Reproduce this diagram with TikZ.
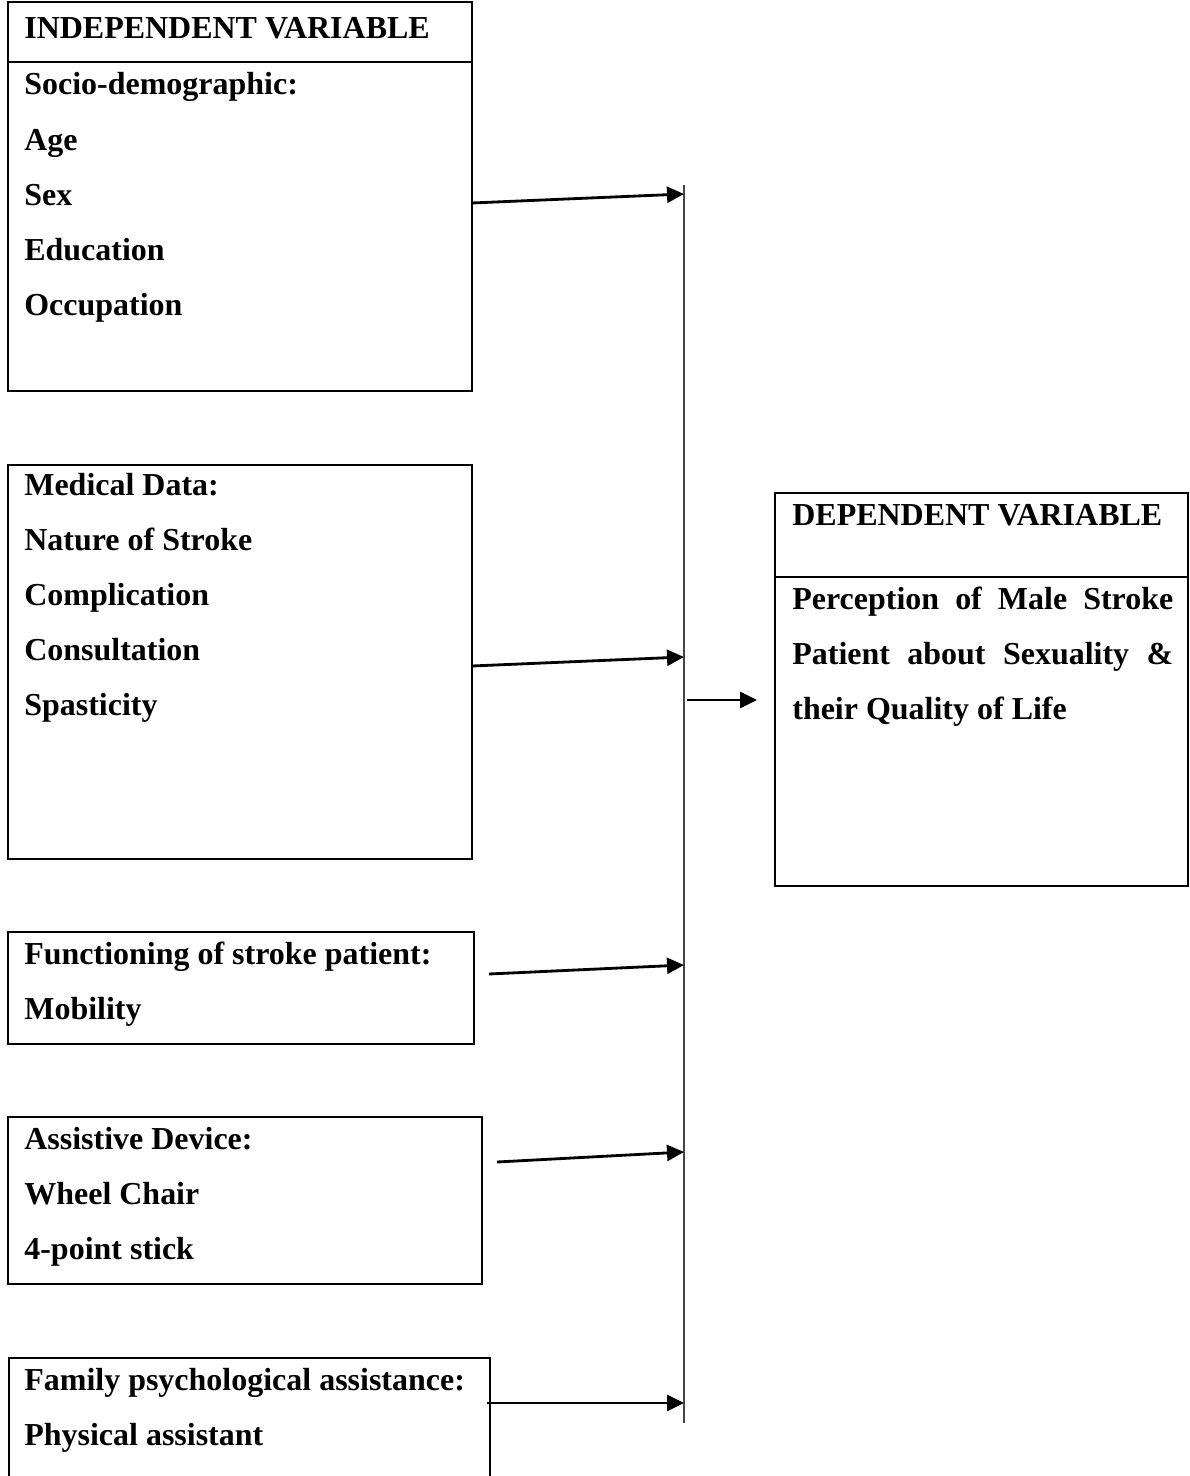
\documentclass[tikz,border=0pt]{standalone}
\usepackage{fontspec}
\setmainfont{Liberation Serif}
\usepackage{tikz}
\usetikzlibrary{arrows.meta, positioning, calc, fit}
\definecolor{busgray}{RGB}{70, 70, 70}

\begin{document}
\begin{tikzpicture}[x=0.02cm, y=-0.02cm,
    box/.style={draw, line width=1.1pt, inner sep=0pt},
    lbl/.style={anchor=base west, inner sep=0pt, font=\fontsize{18.2}{31.3}\selectfont\bfseries},
    link/.style={-{Triangle[length=0.34cm, width=0.32cm]}, line width=1.6pt}]
  \clip (0,0) rectangle (1189,1476);

  % independent variable boxes
  \node[box, fit={(8,2) (472,62)}] (indep-head) {};
  \node[box, fit={(8,62) (472,391)}] (socio) {};
  \node[box, fit={(8,465) (472,859)}] (medical) {};
  \node[box, fit={(8,932) (474,1044)}] (function) {};
  \node[box, fit={(8,1117) (482,1284)}] (device) {};
  \node[box, fit={(9,1358) (490,1520)}] (family) {};

  \node[lbl] (indep-title) at (24,39) {INDEPENDENT VARIABLE};
  \foreach \t [count=\i from 0] in {Socio-demographic:, Age, Sex, Education, Occupation}
    \node[lbl] (socio-\i) at (24, {95+55.2*\i}) {\t};
  \foreach \t [count=\i from 0] in {Medical Data:, Nature of Stroke, Complication, Consultation, Spasticity}
    \node[lbl] (medical-\i) at (24, {495+55.2*\i}) {\t};
  \foreach \t [count=\i from 0] in {Functioning of stroke patient:, Mobility}
    \node[lbl] (function-\i) at (24, {964+55.2*\i}) {\t};
  \foreach \t [count=\i from 0] in {Assistive Device:, Wheel Chair, 4-point stick}
    \node[lbl] (device-\i) at (24, {1149+55.2*\i}) {\t};
  \foreach \t [count=\i from 0] in {Family psychological assistance:, Physical assistant}
    \node[lbl] (family-\i) at (24, {1390+55.2*\i}) {\t};

  % dependent variable box
  \node[box, fit={(775,493) (1188,577)}] (dep-head) {};
  \node[box, fit={(775,577) (1188,886)}] (dep) {};
  \node[lbl] (dep-title) at (792,525) {DEPENDENT VARIABLE};
  \node[lbl] (dep-0) at (792,609) {\makebox[7.62cm][s]{Perception of Male Stroke}};
  \node[lbl] (dep-1) at (792,664) {\makebox[7.62cm][s]{Patient about Sexuality \&}};
  \node[lbl] (dep-2) at (792,719) {their Quality of Life};

  % vertical bus
  \coordinate (bus-top) at (684,185);
  \coordinate (bus-bot) at (684,1423);
  \draw[busgray, line width=0.6pt] (bus-top) -- (bus-bot);

  % arrows into the bus
  \foreach \sx/\sy/\ey [count=\k] in {472/203/194, 472/666/657, 489/974/965, 497/1162/1152, 487/1403/1403} {
    \coordinate (from-\k) at (\sx,\sy);
    \coordinate (to-\k) at (684,\ey);
    \draw[link] (from-\k) -- (to-\k);
  }

  % arrow to dependent variable
  \coordinate (out-start) at (687,700);
  \coordinate (out-end) at (757,700);
  \draw[link] (out-start) -- (out-end);
\end{tikzpicture}
\end{document}
